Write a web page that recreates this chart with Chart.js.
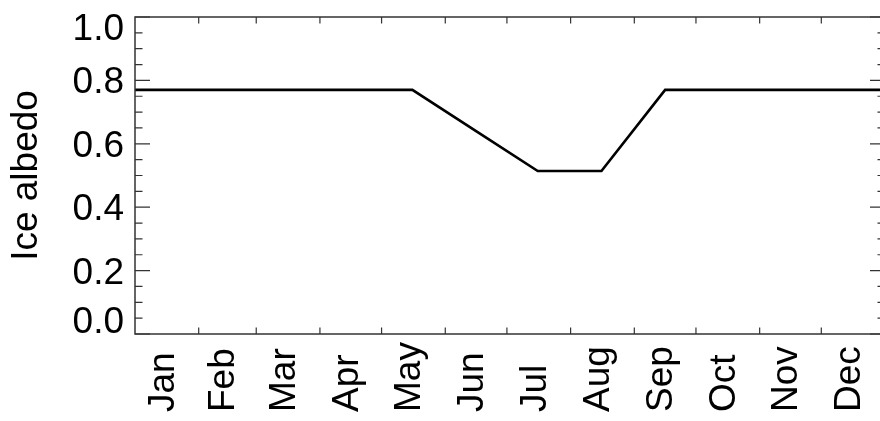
<!DOCTYPE html>
<html>
<head>
<meta charset="utf-8">
<script src="https://cdn.jsdelivr.net/npm/chart.js@4"></script>
<style>
  html, body { margin: 0; background: #fff; overflow: hidden; width: 880px; height: 421px; }
</style>
</head>
<body>
<canvas id="ctx" width="890" height="421"></canvas>
<script>
const months = ['Jan','Feb','Mar','Apr','May','Jun','Jul','Aug','Sep','Oct','Nov','Dec'];
// first day of each month (day of year, 0 based), 365 closes Dec
const monthStart = [0, 31, 59, 90, 120, 151, 181, 212, 243, 273, 304, 334, 365];
// knots at mid month, ends hold the line out to the frame
const dayOfYear = [0, 15, 45, 74, 105, 135, 166, 196, 227, 258, 288, 319, 349, 365];
const albedo = [0.77, 0.77, 0.77, 0.77, 0.77, 0.77, 0.64, 0.514, 0.514, 0.77, 0.77, 0.77, 0.77, 0.77];
const yTicks = [0.0, 0.2, 0.4, 0.6, 0.8, 1.0];
const yTitle = 'Ice albedo';

const FONT = '37px "Liberation Sans", Arial, sans-serif';

const frame = {
    id: 'frame',
    afterDraw(chart) {
        const c = chart.ctx;
        const a = chart.chartArea;
        const xs = chart.scales.x, ys = chart.scales.y;
        c.save();
        c.strokeStyle = '#333';
        c.lineWidth = 1.5;
        c.strokeRect(a.left, a.top, a.right - a.left, a.bottom - a.top);

        // y ticks, major + minor, inward on both sides
        c.lineWidth = 1.2;
        for (let v = 0; v <= 100; v += 5) {
            const py = ys.getPixelForValue(v / 100);
            const len = (v % 20 === 0) ? 15 : 7.5;
            c.beginPath();
            c.moveTo(a.left, py); c.lineTo(a.left + len, py);
            c.moveTo(a.right, py); c.lineTo(a.right - len, py);
            c.stroke();
        }
        // x ticks at month boundaries
        monthStart.slice(1, -1).forEach(d => {
            const px = xs.getPixelForValue(d);
            c.beginPath();
            c.moveTo(px, a.bottom); c.lineTo(px, a.bottom - 6.5);
            c.moveTo(px, a.top); c.lineTo(px, a.top + 6.5);
            c.stroke();
        });

        c.fillStyle = '#000';
        c.font = FONT;
        // y labels
        c.textAlign = 'right';
        c.textBaseline = 'alphabetic';
        yTicks.forEach(v => {
            let py = ys.getPixelForValue(v) + 13;
            if (v === yTicks[0]) py = ys.getPixelForValue(v) - 1;
            if (v === yTicks[yTicks.length - 1]) py = ys.getPixelForValue(v) + 23;
            c.fillText(v.toFixed(1), a.left - 11, py);
        });
        // month labels, rotated, starting at the bottom
        c.textAlign = 'left';
        months.forEach((m, i) => {
            const px = xs.getPixelForValue((monthStart[i] + monthStart[i + 1]) / 2);
            c.save();
            c.translate(px + 7, 412);
            c.rotate(-Math.PI / 2);
            c.fillText(m, 0, 0);
            c.restore();
        });
        // y title
        c.textAlign = 'center';
        c.textBaseline = 'middle';
        c.save();
        c.translate(27, (a.top + a.bottom) / 2);
        c.rotate(-Math.PI / 2);
        c.fillText(yTitle, 0, 0);
        c.restore();
        c.restore();
    }
};

new Chart(document.getElementById('ctx'), {
    type: 'line',
    data: {
        datasets: [{
            label: yTitle,
            data: dayOfYear.map((x, i) => ({ x: x, y: albedo[i] })),
            borderColor: '#000',
            borderWidth: 2.6,
            pointRadius: 0,
            tension: 0,
            fill: false
        }]
    },
    options: {
        responsive: false,
        animation: false,
        layout: { padding: { left: 135, top: 17, right: 5, bottom: 87 } },
        plugins: { legend: { display: false }, tooltip: { enabled: false } },
        scales: {
            x: { type: 'linear', min: 0, max: 365, display: false },
            y: { min: 0, max: 1, display: false }
        }
    },
    plugins: [frame]
});
</script>
</body>
</html>
